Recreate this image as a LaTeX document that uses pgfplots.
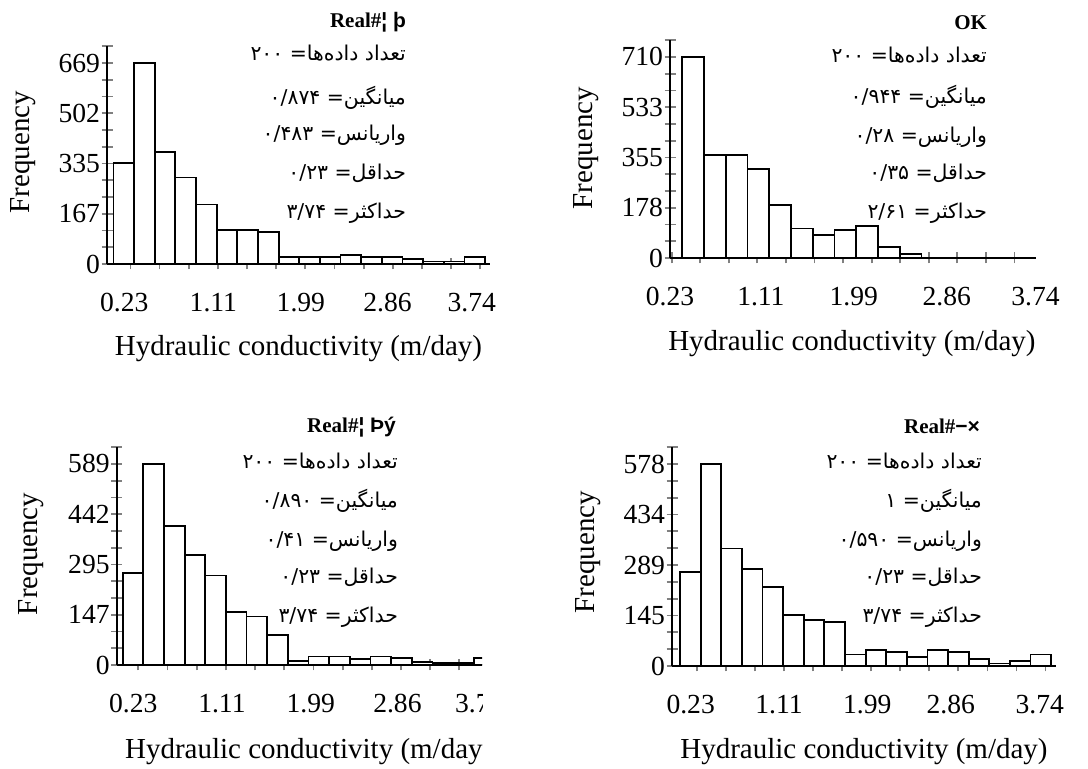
\documentclass[border=0pt]{standalone}
\usepackage{pgfplots}
\pgfplotsset{compat=1.18}
\usepackage{fontspec}
\setmainfont{Liberation Serif}
\newfontfamily\arabicfont[Script=Arabic]{DejaVu Sans}
\newfontfamily\sansb{Liberation Sans}
\TeXXeTstate=1

\newcommand{\lblfont}{\fontsize{14.5}{16}\selectfont}
\pgfplotsset{
  hist/.style={
    scale only axis,
    anchor=south west,
    axis lines=left,
    axis line style={-, line width=1pt},
    enlargelimits=false,
    ymin=0,
    tick align=center,
    major tick length=0pt,
    minor tick length=5.5pt,
    every minor tick/.append style={line width=0.9pt},
    minor xtick={0.23,0.5225,0.815,1.1075,1.4,1.6925,1.985,2.2775,2.57,2.8625,3.155,3.4475,3.74},
    xticklabels={0.23,1.11,1.99,2.86,3.74},
    tick label style={font=\fontsize{13.8}{14}\selectfont},
    xticklabel style={yshift=-11pt},
    xlabel={\lblfont Hydraulic conductivity (m/day)},
    ylabel={\lblfont Frequency},
    every axis x label/.style={anchor=center},
    every axis y label/.style={anchor=center, rotate=90},
    /pgf/number format/assume math mode=true,
  },
  bars/.style={ybar interval, draw=black, fill=white, line width=0.9pt},
}

\newcommand{\fa}{\arabicfont\fontsize{10.2}{12}\selectfont}
\newcommand{\ttl}{\fontsize{10.5}{12}\selectfont\bfseries}

\begin{document}
\begin{tikzpicture}
\useasboundingbox (0pt,0pt) rectangle (544pt,384.5pt);

% ---------------- Panel 1 (top left)
\begin{axis}[hist, at={(53.5pt,252.5pt)}, width=191.5pt, height=108.85pt,
  xmin=-0.005, xmax=3.838, ymax=724.8,
  xtick={0.168,1.062,1.94,2.81,3.655},
  ytick={0,167.25,334.5,501.75,669}, yticklabels={0,167,335,502,669},
  minor ytick={0,55.75,111.5,167.25,223,278.75,334.5,390.25,446,501.75,557.5,613.25,669,724.75},
  xlabel style={at={(axis description cs:0.5,-0.39)}},
  ylabel style={at={(axis description cs:-0.219,0.514)}}]
\addplot[bars] coordinates {(0.060,335) (0.267,669) (0.474,373) (0.681,288) (0.888,198) (1.096,114) (1.303,114) (1.510,106) (1.717,23) (1.924,23) (2.131,23) (2.338,31) (2.545,23) (2.752,23) (2.959,17) (3.167,8) (3.374,8) (3.581,23) (3.788,0)};
\end{axis}
\node[anchor=east, font=\ttl] at (206.5pt,373.5pt) {Real\#{\sansb ¦ þ}};
\node[anchor=east] at (206.5pt,358pt) {\fa\beginR تعداد داده‌ها= \beginL۲۰۰\endL\endR};
\node[anchor=east] at (206.5pt,335.5pt) {\fa\beginR میانگین= \beginL۰/۸۷۴\endL\endR};
\node[anchor=east] at (206.5pt,317pt) {\fa\beginR واریانس= \beginL۰/۴۸۳\endL\endR};
\node[anchor=east] at (206.5pt,298pt) {\fa\beginR حداقل= \beginL۰/۲۳\endL\endR};
\node[anchor=east] at (206.5pt,278pt) {\fa\beginR حداکثر= \beginL۳/۷۴\endL\endR};

% ---------------- Panel 2 (top right)
\begin{axis}[hist, at={(335pt,255.5pt)}, width=183pt, height=108.9pt,
  xmin=0.2136, xmax=3.96, ymax=769.2,
  xtick={0.2137,1.144,2.095,3.046,3.955},
  ytick={0,177.5,355,532.5,710}, yticklabels={0,178,355,533,710},
  minor ytick={0,59.17,118.33,177.5,236.67,295.83,355,414.17,473.33,532.5,591.67,650.83,710,769.17},
  xlabel style={at={(axis description cs:0.497,-0.395)}},
  ylabel style={at={(axis description cs:-0.2295,0.505)}}]
\addplot[bars] coordinates {(0.340,710) (0.5625,363) (0.785,363) (1.0075,313) (1.230,186) (1.4525,104) (1.675,80) (1.8975,98) (2.120,112) (2.3425,39) (2.565,15) (2.7875,0)};
\end{axis}
\node[anchor=east, font=\ttl] at (497pt,373pt) {OK};
\node[anchor=east] at (497pt,357pt) {\fa\beginR تعداد داده‌ها= \beginL۲۰۰\endL\endR};
\node[anchor=east] at (497pt,336pt) {\fa\beginR میانگین= \beginL۰/۹۴۴\endL\endR};
\node[anchor=east] at (497pt,316pt) {\fa\beginR واریانس= \beginL۰/۲۸\endL\endR};
\node[anchor=east] at (497pt,298pt) {\fa\beginR حداقل= \beginL۰/۳۵\endL\endR};
\node[anchor=east] at (497pt,278pt) {\fa\beginR حداکثر= \beginL۲/۶۱\endL\endR};

% ---------------- Panel 3 (bottom left, cut at right)
\begin{scope}
\clip (0pt,0pt) rectangle (241pt,192.5pt);
\begin{axis}[hist, at={(58.35pt,52pt)}, width=192pt, height=108.9pt,
  xmin=0.0135, xmax=3.862, ymax=638.1,
  xtick={0.18,1.068,1.958,2.827,3.647},
  ytick={0,147.25,294.5,441.75,589}, yticklabels={0,147,295,442,589},
  minor ytick={0,49.08,98.17,147.25,196.33,245.42,294.5,343.58,392.67,441.75,490.83,539.92,589,638.08},
  xlabel style={at={(axis description cs:0.5,-0.397)}},
  ylabel style={at={(axis description cs:-0.223,0.51)}}]
\addplot[bars] coordinates {(0.073,269) (0.280,589) (0.487,408) (0.694,322) (0.901,262) (1.108,155) (1.315,142) (1.522,88) (1.729,12) (1.936,25) (2.143,25) (2.350,18) (2.557,25) (2.764,20) (2.971,8) (3.178,6) (3.385,6) (3.592,20) (3.799,0)};
\end{axis}
\end{scope}
\node[anchor=east, font=\ttl] at (201.5pt,171pt) {Real\#{\sansb ¦ Þý}};
\node[anchor=east] at (202.5pt,154pt) {\fa\beginR تعداد داده‌ها= \beginL۲۰۰\endL\endR};
\node[anchor=east] at (202.5pt,134pt) {\fa\beginR میانگین= \beginL۰/۸۹۰\endL\endR};
\node[anchor=east] at (202.5pt,114pt) {\fa\beginR واریانس= \beginL۰/۴۱\endL\endR};
\node[anchor=east] at (202.5pt,96pt) {\fa\beginR حداقل= \beginL۰/۲۳\endL\endR};
\node[anchor=east] at (202.5pt,76pt) {\fa\beginR حداکثر= \beginL۳/۷۴\endL\endR};

% ---------------- Panel 4 (bottom right)
\begin{axis}[hist, at={(336pt,51.5pt)}, width=192pt, height=109.4pt,
  xmin=-0.018, xmax=3.845, ymax=626.2,
  xtick={0.170,1.058,1.947,2.786,3.681},
  ytick={0,144.5,289,433.5,578}, yticklabels={0,145,289,434,578},
  minor ytick={0,48.17,96.33,144.5,192.67,240.83,289,337.17,385.33,433.5,481.67,529.83,578,626.17},
  xlabel style={at={(axis description cs:0.5,-0.393)}},
  ylabel style={at={(axis description cs:-0.219,0.521)}}]
\addplot[bars] coordinates {(0.063,269) (0.270,578) (0.478,336) (0.685,277) (0.893,225) (1.100,145) (1.307,132) (1.515,126) (1.722,33) (1.930,46) (2.137,40) (2.344,26) (2.552,46) (2.759,40) (2.967,21) (3.174,7) (3.381,14) (3.589,33) (3.796,0)};
\end{axis}
\node[anchor=east, font=\ttl] at (493.5pt,171.5pt) {Real\#{\sansb −×}};
\node[anchor=east] at (494.5pt,154pt) {\fa\beginR تعداد داده‌ها= \beginL۲۰۰\endL\endR};
\node[anchor=east] at (494.5pt,134pt) {\fa\beginR میانگین= \beginL۱\endL\endR};
\node[anchor=east] at (494.5pt,114pt) {\fa\beginR واریانس= \beginL۰/۵۹۰\endL\endR};
\node[anchor=east] at (494.5pt,96pt) {\fa\beginR حداقل= \beginL۰/۲۳\endL\endR};
\node[anchor=east] at (494.5pt,76pt) {\fa\beginR حداکثر= \beginL۳/۷۴\endL\endR};
\end{tikzpicture}
\end{document}
